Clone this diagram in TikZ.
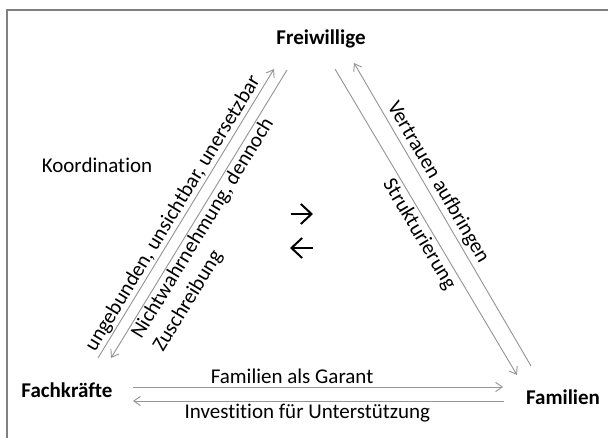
\documentclass[tikz,border=0pt]{standalone}
\usepackage{fontspec}
\setmainfont{Carlito}[Ligatures={NoCommon}]
\usepackage{tikz}
\usetikzlibrary{arrows.meta, positioning, calc}
\definecolor{framegray}{RGB}{128,128,128}
\definecolor{linkgray}{RGB}{150,150,150}

\tikzset{
  actor/.style={font=\fontsize{15.75}{19}\selectfont\bfseries, inner sep=0pt},
  lbl/.style={font=\fontsize{15.75}{19}\selectfont, text=black, inner sep=1pt},
  link/.style={linkgray, line width=0.7pt, -{Straight Barb[length=5pt, width=7pt]}},
  flow/.style={line width=1.5pt, -{Straight Barb[length=8pt, width=15pt]}}
}

\begin{document}
\begin{tikzpicture}[x=0.75pt, y=-0.75pt]
        \useasboundingbox (0,0) rectangle (608,438);
        % Frame, only left and top edge visible
        \draw[framegray, line width=1pt] (7,445) -- (7,10) -- (615,10);

        % Actors
        \node[actor] (frei) at (321,39) {Freiwillige};
        \node[actor] (fach) at (67,390) {Fachkräfte};
        \node[actor] (fam) at (563,397) {Familien};
        \node[lbl] (koord) at (97,165) {Koordination};

        % End points of the links
        \coordinate (l1a) at (98,358);  \coordinate (l1b) at (274,69);
        \coordinate (l2a) at (287,70);  \coordinate (l2b) at (111,358);
        \coordinate (l3a) at (335,69);  \coordinate (l3b) at (517,375);
        \coordinate (l4a) at (531,366); \coordinate (l4b) at (354,63);
        \coordinate (h1a) at (133,387); \coordinate (h1b) at (503,387);
        \coordinate (h2a) at (504,401); \coordinate (h2b) at (133,401);

        % Links between Fachkraefte and Freiwillige
        \draw[link] (l1a) -- (l1b) node[lbl, pos=0.48, sloped, above] (ungeb) {ungebunden, unsichtbar, unersetzbar};
        \draw[link] (l2a) -- (l2b) node[lbl, pos=0.53, sloped, below, align=left] (nicht) {Nichtwahrnehmung, dennoch\\Zuschreibung};

        % Links between Freiwillige and Familien
        \draw[link] (l3a) -- (l3b) node[lbl, pos=0.52, sloped, below=1pt] (struk) {Strukturierung};
        \draw[link] (l4a) -- (l4b) node[lbl, pos=0.585, sloped, above=1pt] (vertr) {Vertrauen aufbringen};

        % Links between Fachkraefte and Familien
        \draw[link] (h1a) -- (h1b) node[lbl, pos=0.43, above=1pt] (garant) {Familien als Garant};
        \draw[link] (h2a) -- (h2b) node[lbl, pos=0.53, below=1pt] (invest) {Investition für Unterstützung};

        % Arrows in the middle
        \coordinate (r1a) at (291,214); \coordinate (r1b) at (313,214);
        \coordinate (r2a) at (313,248); \coordinate (r2b) at (290,248);
        \draw[flow] (r1a) -- (r1b);
        \draw[flow] (r2a) -- (r2b);
\end{tikzpicture}
\end{document}
